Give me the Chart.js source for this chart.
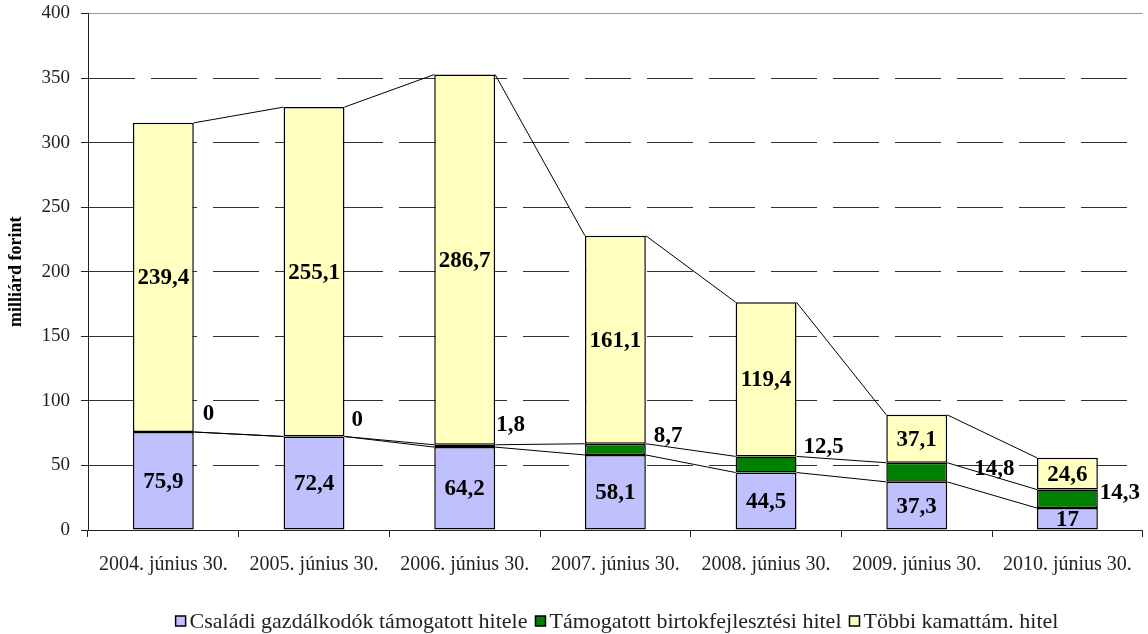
<!DOCTYPE html>
<html>
<head>
<meta charset="utf-8">
<script src="https://cdn.jsdelivr.net/npm/chart.js@4/dist/chart.umd.min.js"></script>
<style>
  html, body { margin: 0; padding: 0; background: #fff; }
</style>
</head>
<body>
<canvas id="chart" width="1148" height="634"></canvas>
<script>
const years = ["2004. június 30.", "2005. június 30.", "2006. június 30.", "2007. június 30.",
               "2008. június 30.", "2009. június 30.", "2010. június 30."];
const csaladi = [75.9, 72.4, 64.2, 58.1, 44.5, 37.3, 17];
const birtok = [0, 0, 1.8, 8.7, 12.5, 14.8, 14.3];
const tobbi = [239.4, 255.1, 286.7, 161.1, 119.4, 37.1, 24.6];
const yMin = 0, yMax = 400, yStep = 50;

const serif = "'Liberation Serif', 'DejaVu Serif', serif";
const fmt = v => String(v).replace(".", ",");

// where the small green labels were dragged to (px from bar right edge / segment top)
const greenLabelShift = [[9, -18], [7, -16], [1, -20], [8, -8], [7, -9], [27, 6], [2, 3]];

// Excel style series lines between stacked bars + value labels
const barExtras = {
  id: "barExtras",
  afterDatasetsDraw(chart) {
    const ctx = chart.ctx;
    ctx.save();
    ctx.strokeStyle = "#000";
    ctx.lineWidth = 1;
    chart.data.datasets.forEach((ds, d) => {
      const bars = chart.getDatasetMeta(d).data;
      for (let i = 0; i < bars.length - 1; i++) {
        const a = bars[i], b = bars[i + 1];
        ctx.beginPath();
        ctx.moveTo(a.x + a.width / 2, a.y);
        ctx.lineTo(b.x - b.width / 2, b.y);
        ctx.stroke();
      }
    });

    ctx.fillStyle = "#000";
    ctx.font = "bold 23px " + serif;
    ctx.textBaseline = "middle";
    chart.data.datasets.forEach((ds, d) => {
      const bars = chart.getDatasetMeta(d).data;
      bars.forEach((bar, i) => {
        const txt = fmt(ds.data[i]);
        if (d === 1) {
          const s = greenLabelShift[i];
          ctx.textAlign = "left";
          ctx.fillText(txt, bar.x + bar.width / 2 + s[0], bar.y + s[1]);
        } else {
          ctx.textAlign = "center";
          ctx.fillText(txt, bar.x, (bar.y + bar.base) / 2 + 1);
        }
      });
    });
    ctx.restore();
  },
  // legend drawn by hand, tight like the Excel one
  afterDraw(chart) {
    const ctx = chart.ctx;
    const cx = 617, cy = 621, box = 10, gapBox = 4, gapItem = 8;
    ctx.save();
    ctx.font = "22px " + serif;
    ctx.textBaseline = "middle";
    ctx.textAlign = "left";
    const items = chart.data.datasets.map(ds => ({
      text: ds.label, color: ds.backgroundColor, w: ctx.measureText(ds.label).width
    }));
    const total = items.reduce((s, it) => s + box + gapBox + it.w, 0) + gapItem * (items.length - 1);
    let x = cx - total / 2;
    items.forEach(it => {
      ctx.fillStyle = it.color;
      ctx.fillRect(x, cy - box / 2, box, box);
      ctx.strokeStyle = "#000";
      ctx.lineWidth = 1.5;
      ctx.strokeRect(x, cy - box / 2, box, box);
      ctx.fillStyle = "#222";
      ctx.fillText(it.text, x + box + gapBox, cy + 1);
      x += box + gapBox + it.w + gapItem;
    });
    ctx.restore();
  }
};

new Chart(document.getElementById("chart"), {
  type: "bar",
  data: {
    labels: years,
    datasets: [
      { label: "Családi gazdálkodók támogatott hitele", data: csaladi, backgroundColor: "#C0C0FF" },
      { label: "Támogatott birtokfejlesztési hitel", data: birtok, backgroundColor: "#008000" },
      { label: "Többi kamattám. hitel", data: tobbi, backgroundColor: "#FFFFC0" }
    ]
  },
  options: {
    responsive: false,
    animation: false,
    layout: { padding: { top: 0, right: 2, left: 0, bottom: 0 } },
    datasets: {
      bar: {
        borderColor: "#000",
        borderWidth: 1.5,
        borderSkipped: false,
        barPercentage: 0.404,
        categoryPercentage: 1
      }
    },
    scales: {
      x: {
        stacked: true,
        afterFit: s => { s.height = 104; },
        border: { color: "#222", width: 1 },
        grid: { display: true, drawOnChartArea: false, tickLength: 7, color: "#222" },
        ticks: { color: "#222", padding: 16, font: { family: serif, size: 20 }, maxRotation: 0 }
      },
      y: {
        stacked: true,
        min: yMin,
        max: yMax,
        afterFit: s => { s.width = 88; s.paddingTop = 13.5; s.paddingBottom = 0; },
        border: {
          color: "#222",
          width: 1,
          dash: c => c.tick && (c.tick.value === yMax || c.tick.value === yMin) ? [] : [46, 16]
        },
        grid: {
          color: c => c.tick && c.tick.value === yMax ? "#999" : "#333",
          tickLength: 7,
          tickColor: "#222"
        },
        ticks: { stepSize: yStep, color: "#222", padding: 11, font: { family: serif, size: 19 } },
        title: {
          display: true,
          text: "milliárd forint",
          color: "#000",
          padding: { top: 6, bottom: 0 },
          font: { family: serif, size: 18, weight: "bold" }
        }
      }
    },
    plugins: {
      legend: { display: false },
      tooltip: { enabled: false }
    }
  },
  plugins: [barExtras]
});
</script>
</body>
</html>
